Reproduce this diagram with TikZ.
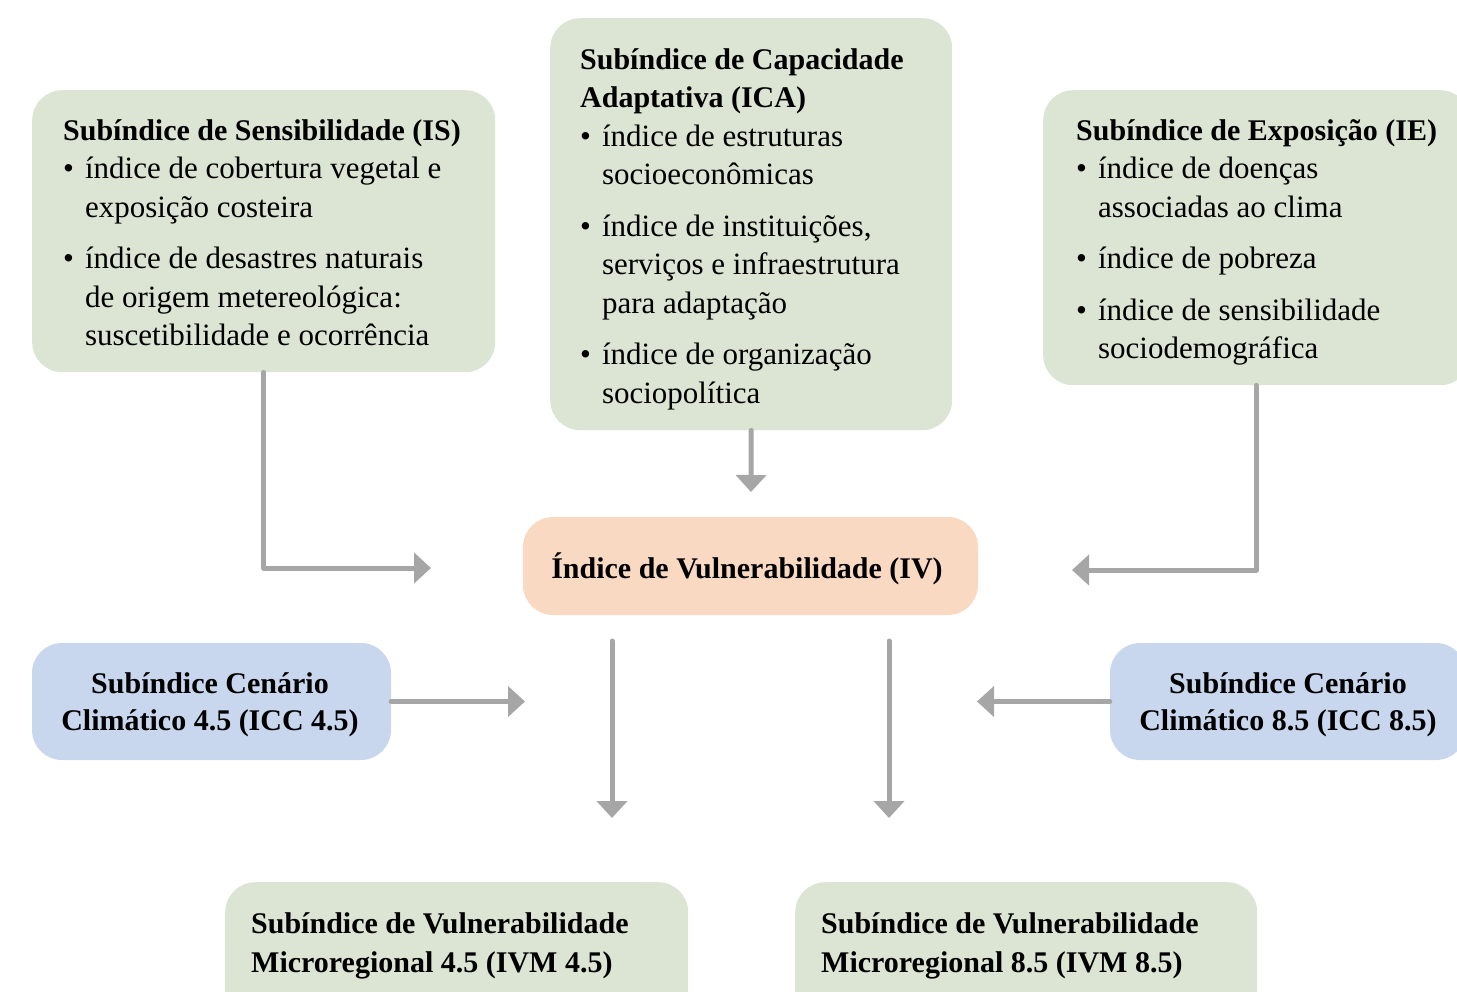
\documentclass[tikz,border=0pt]{standalone}
\usepackage{fontspec}
\setmainfont{Liberation Serif}
\usetikzlibrary{arrows.meta,calc}
\definecolor{boxgreen}{HTML}{DCE5D3}
\definecolor{boxorange}{HTML}{FAD9C3}
\definecolor{boxblue}{HTML}{C9D7EE}
\definecolor{arrgray}{HTML}{A6A6A6}
\newcommand{\ttl}{\bfseries\fontsize{30}{38.5}\selectfont}
\begin{document}
\begin{tikzpicture}[x=1pt,y=-1pt,
  box/.style={rounded corners=30pt, inner sep=0pt, draw=none},
  gbox/.style={box, fill=boxgreen, anchor=north west},
  obox/.style={box, fill=boxorange},
  bbox/.style={box, fill=boxblue},
  ctxt/.style={inner sep=0pt, align=center, font=\bfseries\fontsize{30}{37}\selectfont},
  txt/.style={anchor=base west, inner sep=0pt, align=left, font=\fontsize{31}{38.5}\selectfont},
  ttxt/.style={anchor=base west, inner sep=0pt, align=left, font=\bfseries\fontsize{30}{39}\selectfont},
  arr/.style={draw=arrgray, line width=5pt, line cap=round, line join=round, -{Triangle[length=17pt,width=30pt]}}]
\useasboundingbox (0,0) rectangle (1457,991);
\clip (0,0) rectangle (1457,991);

% boxes
\node[gbox, minimum width=463pt, minimum height=282pt] (IS) at (32,90) {};
\node[gbox, minimum width=402pt, minimum height=412pt] (ICA) at (550,18) {};
\node[gbox, minimum width=427pt, minimum height=295pt] (IE) at (1043,90) {};
\node[obox, minimum width=455pt, minimum height=98pt] (IV) at (750.5,566) {};
\node[ctxt, anchor=base] (IVtxt) at (747,578) {Índice de Vulnerabilidade (IV)};
\node[bbox, minimum width=359pt, minimum height=117pt] (ICC45) at (211.5,701.5) {};
\node[bbox, minimum width=356pt, minimum height=117pt] (ICC85) at (1288,701.5) {};
\node[ctxt] (ICC45txt) at (210,705) {Subíndice Cenário\\Climático 4.5 (ICC 4.5)};
\node[ctxt] (ICC85txt) at (1288,705) {Subíndice Cenário\\Climático 8.5 (ICC 8.5)};
\node[gbox, minimum width=463pt, minimum height=140pt] (IVM45) at (225,882) {};
\node[gbox, minimum width=462pt, minimum height=140pt] (IVM85) at (795,882) {};

% texts
\node[txt] (IStxt) at (63,140) {\begin{tabular}[t]{@{}l@{\hspace{11pt}}l@{}}
\multicolumn{2}{@{}l@{}}{\ttl Subíndice de Sensibilidade (IS)}\\
\textbullet & índice de cobertura vegetal e\\
 & exposição costeira\\[13pt]
\textbullet & índice de desastres naturais\\
 & de origem metereológica:\\
 & suscetibilidade e ocorrência
\end{tabular}};

\node[txt] (ICAtxt) at (580,69) {\begin{tabular}[t]{@{}l@{\hspace{11pt}}l@{}}
\multicolumn{2}{@{}l@{}}{\ttl Subíndice de Capacidade}\\
\multicolumn{2}{@{}l@{}}{\ttl Adaptativa (ICA)}\\
\textbullet & índice de estruturas\\
 & socioeconômicas\\[13pt]
\textbullet & índice de instituições,\\
 & serviços e infraestrutura\\
 & para adaptação\\[13pt]
\textbullet & índice de organização\\
 & sociopolítica
\end{tabular}};

\node[txt] (IEtxt) at (1076,140) {\begin{tabular}[t]{@{}l@{\hspace{11pt}}l@{}}
\multicolumn{2}{@{}l@{}}{\ttl Subíndice de Exposição (IE)}\\
\textbullet & índice de doenças\\
 & associadas ao clima\\[13pt]
\textbullet & índice de pobreza\\[13pt]
\textbullet & índice de sensibilidade\\
 & sociodemográfica
\end{tabular}};

\node[ttxt] (IVM45txt) at (251,972) {Subíndice de Vulnerabilidade\\Microregional 4.5 (IVM 4.5)};
\node[ttxt] (IVM85txt) at (821,972) {Subíndice de Vulnerabilidade\\Microregional 8.5 (IVM 8.5)};

% free arrow ends
\coordinate (isT) at (431,568);
\coordinate (icaT) at (751,492);
\coordinate (ieT) at (1072,570);
\coordinate (c45T) at (525,701.5);
\coordinate (c85T) at (977,701.5);
\coordinate (d1s) at (612,641);
\coordinate (d1e) at (612,818);
\coordinate (d2s) at (889,641);
\coordinate (d2e) at (889,818);

% connectors
\draw[arr] (IS.south) |- (isT);
\draw[arr] (ICA.south) -- (icaT);
\draw[arr] (IE.south) |- (ieT);
\draw[arr] (ICC45.east) -- (c45T);
\draw[arr] (ICC85.west) -- (c85T);
\draw[arr] (d1s) -- (d1e);
\draw[arr] (d2s) -- (d2e);
\end{tikzpicture}
\end{document}
